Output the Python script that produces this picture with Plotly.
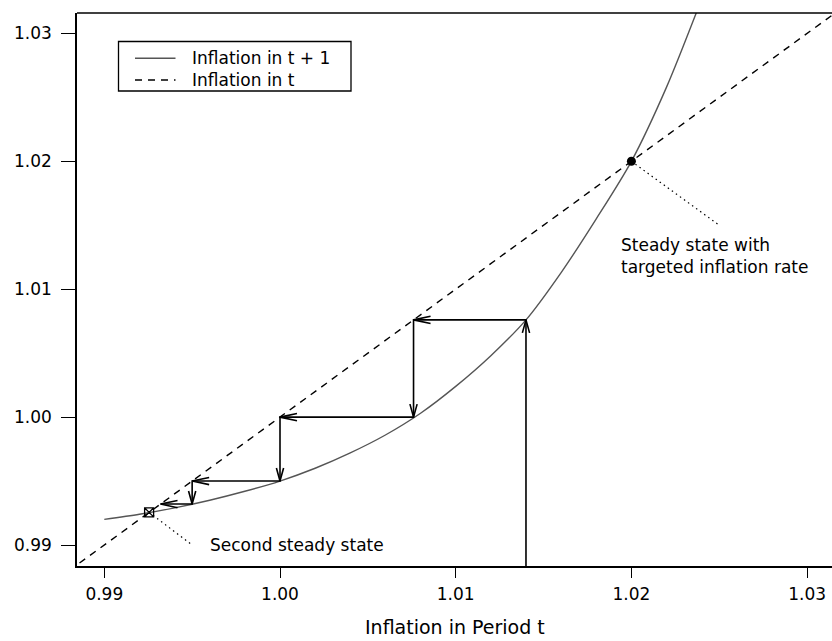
import math
import plotly.graph_objects as go

# ---------------- data ----------------
# inflation map: inflation in t  ->  inflation in t + 1
infl_t = [0.990, 0.992, 0.994, 0.996, 0.998, 1.000, 1.002, 1.004, 1.006,
          1.008, 1.010, 1.012, 1.014, 1.016, 1.018, 1.020, 1.022, 1.024]
infl_t1 = [0.9920, 0.9924, 0.9929, 0.9935, 0.9942, 0.9950, 0.9960, 0.9972, 0.9986,
           1.0003, 1.0024, 1.0048, 1.0076, 1.0113, 1.0155, 1.0200, 1.0258, 1.0327]

# 45-degree line (inflation in t)
diag_vals = [0.985, 1.035]

# cobweb path (arrows from one point to the next)
cobweb_x = [1.014, 1.014, 1.0076, 1.0076, 1.000, 1.000, 0.995, 0.995, 0.9932]
cobweb_y = [0.985, 1.0076, 1.0076, 1.000, 1.000, 0.995, 0.995, 0.9932, 0.9932]

# steady states
ss_target = (1.020, 1.020)
ss_second = (0.99255, 0.99255)

# dotted pointers from steady states to their labels
ptr_target_x = [1.020, 1.025]
ptr_target_y = [1.020, 1.015]
ptr_second_x = [0.99255, 0.995]
ptr_second_y = [0.99255, 0.990]

label_target = "Steady state with<br>targeted inflation rate"
label_target_pos = (1.0193, 1.0126)
label_second = "Second steady state"
label_second_pos = (0.9959, 0.9900)

tick_vals = [0.99, 1.00, 1.01, 1.02, 1.03]
tick_text = ["0.99", "1.00", "1.01", "1.02", "1.03"]

legend_labels = ["Inflation in t + 1", "Inflation in t"]
x_title = "Inflation in Period t"

# ---------------- layout geometry ----------------
W, H = 832, 641
ML, MR, MT, MB = 77, 0, 13, 75
PW, PH = W - ML - MR, H - MT - MB
XR = [0.988446, 1.031417]
YR = [0.988358, 1.031595]
kx = PW / (XR[1] - XR[0])
ky = PH / (YR[1] - YR[0])

FONT = "DejaVu Sans"
CURVE_COL = "#555555"


def px2paper(px, py):
    return (px - ML) / PW, (H - MB - py) / PH


fig = go.Figure()

# 45-degree dashed line
fig.add_trace(go.Scatter(x=diag_vals, y=diag_vals, mode="lines",
                         line=dict(color="black", width=1.4, dash="7px,6px"),
                         showlegend=False, hoverinfo="skip"))

# inflation map curve
fig.add_trace(go.Scatter(x=infl_t, y=infl_t1, mode="lines",
                         line=dict(color=CURVE_COL, width=1.4, shape="spline", smoothing=0.8),
                         showlegend=False, hoverinfo="skip"))

# cobweb path
fig.add_trace(go.Scatter(x=cobweb_x, y=cobweb_y, mode="lines",
                         line=dict(color="black", width=1.6),
                         showlegend=False, hoverinfo="skip"))

# open arrow heads at the end of every cobweb segment
hx, hy = [], []
for i in range(len(cobweb_x) - 1):
    x0, y0, x1, y1 = cobweb_x[i], cobweb_y[i], cobweb_x[i + 1], cobweb_y[i + 1]
    dxp, dyp = (x1 - x0) * kx, (y1 - y0) * ky
    L = math.hypot(dxp, dyp)
    ux, uy = dxp / L, dyp / L
    hl = 17 if abs(dxp) > abs(dyp) else 13
    hw = 3.6
    for s in (1, -1):
        bx = -hl * ux + s * hw * (-uy)
        by = -hl * uy + s * hw * ux
        hx += [x1 + bx / kx, x1]
        hy += [y1 + by / ky, y1]
    hx.append(None)
    hy.append(None)
fig.add_trace(go.Scatter(x=hx, y=hy, mode="lines",
                         line=dict(color="black", width=1.6),
                         showlegend=False, hoverinfo="skip"))

# dotted pointers
for px_, py_ in ((ptr_target_x, ptr_target_y), (ptr_second_x, ptr_second_y)):
    fig.add_trace(go.Scatter(x=px_, y=py_, mode="lines",
                             line=dict(color="black", width=1.2, dash="1.5px,3.5px"),
                             showlegend=False, hoverinfo="skip"))

# steady state markers
fig.add_trace(go.Scatter(x=[ss_target[0]], y=[ss_target[1]], mode="markers",
                         marker=dict(symbol="circle", size=9, color="black"),
                         showlegend=False, hoverinfo="skip"))
fig.add_trace(go.Scatter(x=[ss_second[0]], y=[ss_second[1]], mode="markers",
                         marker=dict(symbol="square-x-open", size=9, color="black",
                                     line=dict(width=1.3, color="black")),
                         showlegend=False, hoverinfo="skip"))

annotations = [
    dict(x=label_target_pos[0], y=label_target_pos[1], xref="x", yref="y",
         text=label_target, showarrow=False, xanchor="left", yanchor="middle",
         align="left", font=dict(family=FONT, size=17, color="black")),
    dict(x=label_second_pos[0], y=label_second_pos[1], xref="x", yref="y",
         text=label_second, showarrow=False, xanchor="left", yanchor="middle",
         align="left", font=dict(family=FONT, size=17, color="black")),
]

# x-axis title
tx, ty = px2paper(454, 627)
annotations.append(dict(x=0.5, y=ty, xref="paper", yref="paper", text=x_title,
                        showarrow=False, xanchor="center", yanchor="middle",
                        font=dict(family=FONT, size=19, color="black")))

# legend box (drawn by hand to match the R style legend)
shapes = []
bx0, by1 = px2paper(118.5, 41.5)
bx1, by0 = px2paper(351, 91)
shapes.append(dict(type="rect", xref="paper", yref="paper", x0=bx0, x1=bx1, y0=by0, y1=by1,
                   line=dict(color="black", width=1.3), fillcolor="white", layer="above"))
row_py = [58.3, 80]
row_styles = [dict(color=CURVE_COL, width=1.4), dict(color="black", width=1.4, dash="7px,6px")]
for lab, rpy, st in zip(legend_labels, row_py, row_styles):
    lx0, ly = px2paper(135, rpy)
    lx1, _ = px2paper(175.5, rpy)
    shapes.append(dict(type="line", xref="paper", yref="paper", x0=lx0, x1=lx1, y0=ly, y1=ly,
                       line=st, layer="above"))
    tx0, _ = px2paper(190, rpy)
    annotations.append(dict(x=tx0, y=ly, xref="paper", yref="paper", text=lab, showarrow=False,
                            xanchor="left", yanchor="middle",
                            font=dict(family=FONT, size=17, color="black")))

# top border of the plot box
shapes.append(dict(type="line", xref="paper", yref="paper", x0=0, x1=1, y0=1, y1=1,
                   line=dict(color="black", width=1.5), layer="above"))

fig.update_layout(
    width=W, height=H,
    margin=dict(l=ML, r=MR, t=MT, b=MB, pad=0),
    paper_bgcolor="white", plot_bgcolor="white",
    showlegend=False,
    annotations=annotations, shapes=shapes,
    xaxis=dict(range=XR, showgrid=False, zeroline=False, showline=True,
               linecolor="black", linewidth=1.5, ticks="outside", ticklen=10,
               tickwidth=1.3, tickcolor="black", tickvals=tick_vals, ticktext=tick_text,
               tickfont=dict(family=FONT, size=17, color="black"),
               ticklabelstandoff=2, fixedrange=True),
    yaxis=dict(range=YR, showgrid=False, zeroline=False, showline=True,
               linecolor="black", linewidth=1.5, ticks="outside", ticklen=14,
               tickwidth=1.3, tickcolor="black", tickvals=tick_vals, ticktext=tick_text,
               tickfont=dict(family=FONT, size=17, color="black"),
               ticklabelstandoff=6, fixedrange=True),
)

fig.write_html("out.html",
               config={"displayModeBar": False},
               post_script="document.body.style.margin='0';document.body.style.overflow='hidden';")
